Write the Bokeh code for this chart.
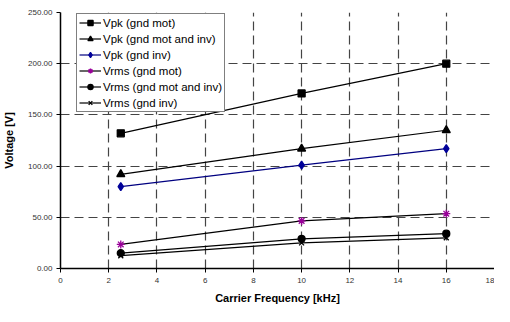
from bokeh.plotting import figure
from bokeh.models import NumeralTickFormatter, FixedTicker, Legend, LegendItem
from bokeh.embed import file_html
from bokeh.resources import INLINE

freq = [2.5, 10, 16]
vpk_mot = [132, 171, 200]
vpk_mot_inv = [92, 117, 135]
vpk_inv = [80, 101, 117]
vrms_mot = [23.5, 46.5, 53.5]
vrms_mot_inv = [15, 29, 34]
vrms_inv = [12.5, 25, 30]

x_ticks = [0, 2, 4, 6, 8, 10, 12, 14, 16, 18]
y_ticks = [0, 50, 100, 150, 200, 250]

FONT = "Liberation Sans"

p = figure(width=494, height=306, output_backend="svg", toolbar_location=None,
           x_range=(0, 18), y_range=(0, 250),
           min_border_left=57, min_border_right=0, min_border_top=12, min_border_bottom=32)
p.outline_line_color = None

for ax in (p.xaxis[0], p.yaxis[0]):
    ax.axis_line_color = "black"
    ax.axis_line_width = 1.5
    ax.major_tick_line_color = "black"
    ax.major_tick_out = 4
    ax.major_tick_in = 0
    ax.minor_tick_line_color = None
    ax.major_label_text_font = FONT
    ax.major_label_text_font_size = "8px"
    ax.major_label_text_color = "#333333"
    ax.axis_label_text_font = FONT
    ax.axis_label_text_font_size = "11px"
    ax.axis_label_text_font_style = "bold"
    ax.axis_label_text_color = "black"

p.xaxis.ticker = FixedTicker(ticks=x_ticks)
p.yaxis.ticker = FixedTicker(ticks=y_ticks)
p.yaxis.formatter = NumeralTickFormatter(format="0.00")
p.xaxis.axis_label = "Carrier Frequency [kHz]"
p.yaxis.axis_label = "Voltage [V]"
p.xaxis.major_label_standoff = 5
p.yaxis.major_label_standoff = 4
p.xaxis.axis_label_standoff = 6
p.yaxis.axis_label_standoff = 10

for g in (p.xgrid[0], p.ygrid[0]):
    g.grid_line_color = "#444444"
    g.grid_line_dash = "9 5"
    g.grid_line_width = 1.2

items = []
series = [
    ("Vpk (gnd mot)", vpk_mot, "square", "black", "black", 7),
    ("Vpk (gnd mot and inv)", vpk_mot_inv, "triangle", "black", "black", 8),
    ("Vpk (gnd inv)", vpk_inv, "diamond", "#000080", "#000099", 8),
    ("Vrms (gnd mot)", vrms_mot, "asterisk", "black", "#990099", 8),
    ("Vrms (gnd mot and inv)", vrms_mot_inv, "circle", "black", "black", 7),
    ("Vrms (gnd inv)", vrms_inv, "x", "black", "black", 7),
]
for label, ys, marker, lc, mc, sz in series:
    l = p.line(freq, ys, line_color=lc, line_width=1.2)
    s = p.scatter(freq, ys, marker=marker, size=sz, fill_color=mc, line_color=mc, line_width=1.3)
    items.append(LegendItem(label=label, renderers=[l, s]))

legend = Legend(items=items, location=(16, 156))
legend.label_text_font = FONT
legend.label_text_font_size = "11.5px"
legend.label_text_color = "black"
legend.label_height = 13
legend.glyph_height = 13
legend.glyph_width = 22
legend.label_standoff = 2
legend.spacing = 3
legend.padding = 2
legend.margin = 0
legend.border_line_color = "black"
legend.border_line_width = 1
legend.background_fill_color = "white"
legend.background_fill_alpha = 1
p.add_layout(legend, "center")

open("out.html", "w").write(file_html(p, INLINE))
